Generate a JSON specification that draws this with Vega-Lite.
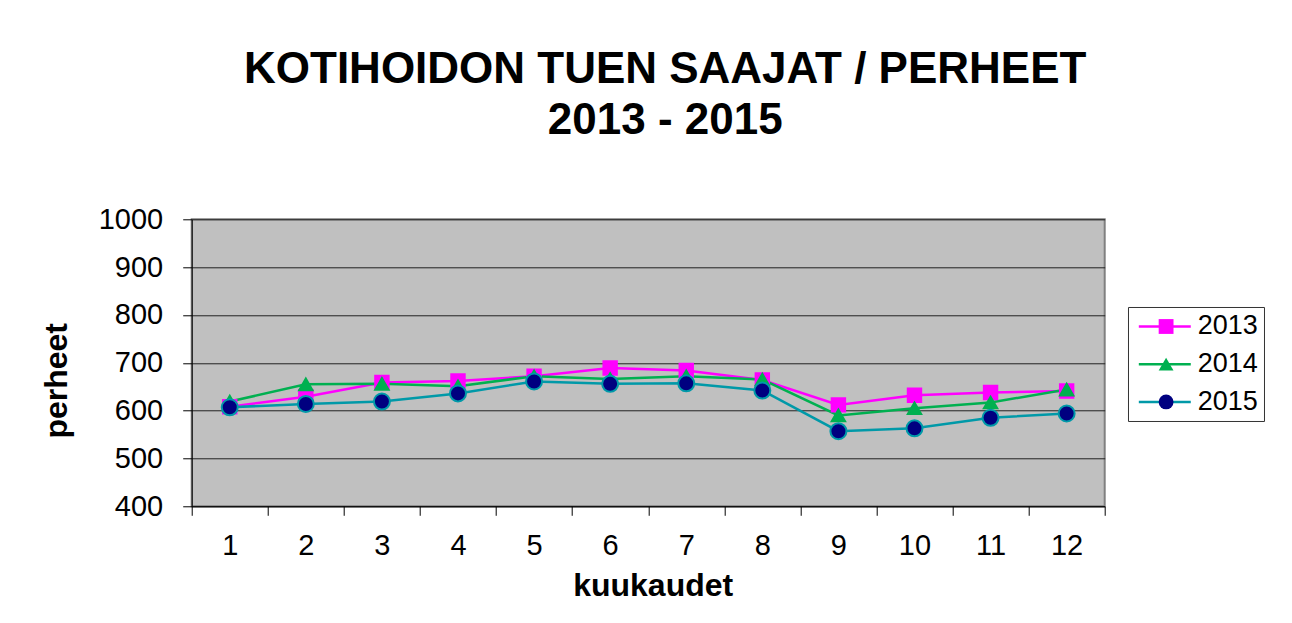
{
  "$schema": "https://vega.github.io/schema/vega-lite/v6.json",
  "width": 913,
  "height": 287,
  "autosize": {"type": "none"},
  "padding": {"left": 191.7, "top": 219.3, "right": 187.3, "bottom": 116.3},
  "background": "white",
  "title": {
    "text": ["KOTIHOIDON TUEN SAAJAT / PERHEET", "2013 - 2015"],
    "font": "Liberation Sans",
    "fontSize": 44,
    "fontWeight": "bold",
    "lineHeight": 51,
    "color": "black",
    "anchor": "middle",
    "frame": "group",
    "offset": 62,
    "dx": 17
  },
  "config": {
    "font": "Liberation Sans",
    "view": {"fill": "#C0C0C0", "stroke": "#808080", "strokeWidth": 2}
  },
  "data": {
    "values": [
      {"kuukausi": 1, "vuosi": "2013", "perheet": 608},
      {"kuukausi": 2, "vuosi": "2013", "perheet": 629},
      {"kuukausi": 3, "vuosi": "2013", "perheet": 659},
      {"kuukausi": 4, "vuosi": "2013", "perheet": 662},
      {"kuukausi": 5, "vuosi": "2013", "perheet": 672},
      {"kuukausi": 6, "vuosi": "2013", "perheet": 689},
      {"kuukausi": 7, "vuosi": "2013", "perheet": 684},
      {"kuukausi": 8, "vuosi": "2013", "perheet": 664},
      {"kuukausi": 9, "vuosi": "2013", "perheet": 612},
      {"kuukausi": 10, "vuosi": "2013", "perheet": 632},
      {"kuukausi": 11, "vuosi": "2013", "perheet": 638},
      {"kuukausi": 12, "vuosi": "2013", "perheet": 641},
      {"kuukausi": 1, "vuosi": "2014", "perheet": 619},
      {"kuukausi": 2, "vuosi": "2014", "perheet": 655},
      {"kuukausi": 3, "vuosi": "2014", "perheet": 656},
      {"kuukausi": 4, "vuosi": "2014", "perheet": 651},
      {"kuukausi": 5, "vuosi": "2014", "perheet": 672},
      {"kuukausi": 6, "vuosi": "2014", "perheet": 666},
      {"kuukausi": 7, "vuosi": "2014", "perheet": 672},
      {"kuukausi": 8, "vuosi": "2014", "perheet": 665},
      {"kuukausi": 9, "vuosi": "2014", "perheet": 590},
      {"kuukausi": 10, "vuosi": "2014", "perheet": 605},
      {"kuukausi": 11, "vuosi": "2014", "perheet": 617},
      {"kuukausi": 12, "vuosi": "2014", "perheet": 644},
      {"kuukausi": 1, "vuosi": "2015", "perheet": 607},
      {"kuukausi": 2, "vuosi": "2015", "perheet": 614},
      {"kuukausi": 3, "vuosi": "2015", "perheet": 619},
      {"kuukausi": 4, "vuosi": "2015", "perheet": 636},
      {"kuukausi": 5, "vuosi": "2015", "perheet": 661},
      {"kuukausi": 6, "vuosi": "2015", "perheet": 656},
      {"kuukausi": 7, "vuosi": "2015", "perheet": 657},
      {"kuukausi": 8, "vuosi": "2015", "perheet": 642},
      {"kuukausi": 9, "vuosi": "2015", "perheet": 557},
      {"kuukausi": 10, "vuosi": "2015", "perheet": 563},
      {"kuukausi": 11, "vuosi": "2015", "perheet": 585},
      {"kuukausi": 12, "vuosi": "2015", "perheet": 594}
    ]
  },
  "encoding": {
    "x": {
      "field": "kuukausi",
      "type": "quantitative",
      "scale": {"domain": [0.5, 12.5], "nice": false, "zero": false},
      "axis": {
        "values": [0.5, 1.5, 2.5, 3.5, 4.5, 5.5, 6.5, 7.5, 8.5, 9.5, 10.5, 11.5, 12.5],
        "labelExpr": "datum.value < 12 ? format(datum.value + 0.5, 'd') : ''",
        "labelOffset": 38,
        "labelFlush": false,
        "labelOverlap": false,
        "grid": false,
        "tickSize": 9,
        "tickColor": "#000000",
        "domainColor": "#000000",
        "labelPadding": 16,
        "labelFontSize": 29,
        "labelColor": "black",
        "title": "kuukaudet",
        "titleFontSize": 32,
        "titleFontWeight": "bold",
        "titleColor": "black",
        "titleX": 461,
        "titleY": 64,
        "titleBaseline": "top"
      }
    },
    "y": {
      "field": "perheet",
      "type": "quantitative",
      "scale": {"domain": [400, 1000], "nice": false, "zero": false},
      "axis": {
        "values": [400, 500, 600, 700, 800, 900, 1000],
        "format": "d",
        "grid": true,
        "gridColor": "#202020",
        "gridWidth": 1,
        "tickSize": 9,
        "tickColor": "#000000",
        "domainColor": "#000000",
        "labelPadding": 20,
        "labelFontSize": 29,
        "labelColor": "black",
        "title": "perheet",
        "titleFontSize": 32,
        "titleFontWeight": "bold",
        "titleColor": "black",
        "titleX": -118,
        "titleY": 161
      }
    }
  },
  "layer": [
    {
      "mark": {"type": "line", "strokeWidth": 2.5},
      "encoding": {
        "stroke": {
          "field": "vuosi",
          "type": "nominal",
          "scale": {"domain": ["2013", "2014", "2015"], "range": ["#FF00FF", "#00B050", "#0099A8"]},
          "legend": {
            "title": null,
            "orient": "none",
            "legendX": 936.3,
            "legendY": 87.7,
            "symbolType": "M-3,0H3",
            "symbolSize": 300,
            "symbolStrokeWidth": 2.5,
            "labelFontSize": 27,
            "labelColor": "black",
            "labelOffset": 19.4,
            "padding": 6,
            "rowPadding": 9.7,
            "strokeColor": "#333333",
            "symbolOffset": 17.3,
            "labelLimit": 300
          }
        }
      }
    },
    {
      "mark": {"type": "point", "filled": true, "opacity": 1, "strokeWidth": 2},
      "encoding": {
        "stroke": {"field": "vuosi", "type": "nominal"},
        "fill": {
          "field": "vuosi",
          "type": "nominal",
          "scale": {"range": ["#FF00FF", "#00B050", "#000080"]},
          "legend": {
            "title": null,
            "orient": "none",
            "legendX": 936.3,
            "legendY": 87.7,
            "symbolSize": 220,
            "labelFontSize": 27,
            "labelOpacity": 0,
            "labelOffset": 19.4,
            "padding": 6,
            "rowPadding": 9.7,
            "symbolOffset": 18.6
          }
        },
        "shape": {
          "field": "vuosi",
          "type": "nominal",
          "scale": {"range": ["square", "triangle-up", "circle"]},
          "legend": {
            "title": null,
            "orient": "none",
            "legendX": 936.3,
            "legendY": 87.7,
            "symbolSize": 220,
            "labelFontSize": 27,
            "labelOpacity": 0,
            "labelOffset": 19.4,
            "padding": 6,
            "rowPadding": 9.7,
            "symbolOffset": 18.6
          }
        },
        "size": {"condition": {"test": "datum.vuosi == '2015'", "value": 256}, "value": 180}
      }
    }
  ]
}
